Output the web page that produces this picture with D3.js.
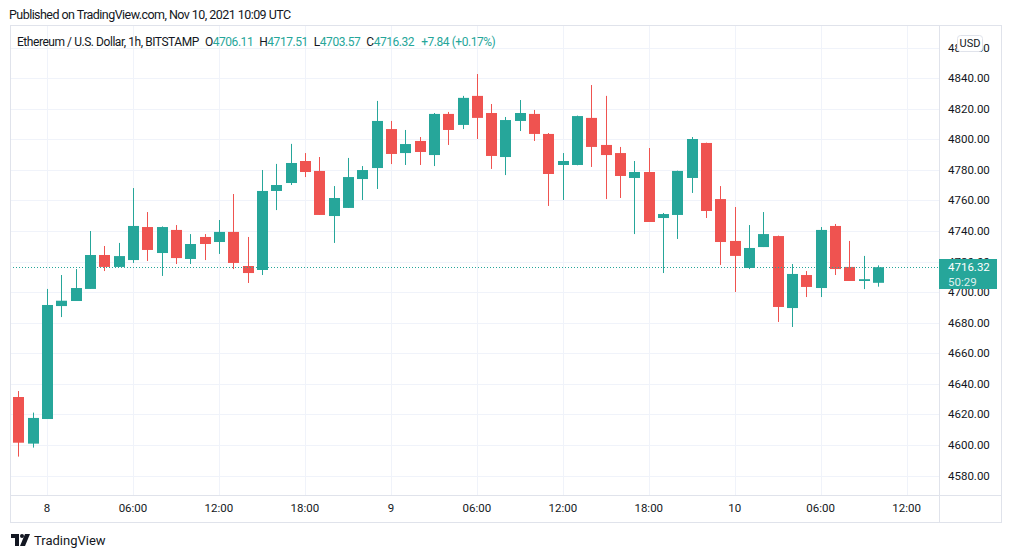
<!DOCTYPE html>
<html>
<head>
<meta charset="utf-8">
<script src="https://cdn.jsdelivr.net/npm/d3@7"></script>
<style>
  body { margin: 0; background: #fff; }
  text { font-family: Roboto, "Noto Sans", sans-serif; }
</style>
</head>
<body>
<script>
const svgW = 1012;
const svgH = 558;

// pane geometry
const paneL = 10, paneR = 939, paneT = 25, paneB = 495, frameR = 1001, frameB = 522;

// data: ETH/USD 1h, BITSTAMP, first candle Nov 7 22:00 UTC
const startTime = Date.UTC(2021, 10, 7, 22);
const hour = 3600 * 1000;
const opens = [4631.4, 4600.9, 4617.0, 4690.9, 4694.2, 4702.1, 4724.3, 4716.5, 4721.0, 4742.6,
  4725.6, 4740.7, 4721.7, 4736.1, 4732.8, 4739.4, 4717.1, 4714.5, 4766.2, 4771.4,
  4785.8, 4779.3, 4749.8, 4755.1, 4774.0, 4781.2, 4806.7, 4791.0, 4798.9, 4789.7,
  4816.6, 4809.4, 4828.4, 4817.2, 4788.4, 4812.0, 4816.6, 4803.5, 4783.2, 4783.2,
  4814.0, 4796.3, 4791.0, 4774.7, 4778.6, 4748.5, 4750.5, 4774.7, 4797.6, 4760.9,
  4733.5, 4715.8, 4729.5, 4736.7, 4689.6, 4711.2, 4702.7, 4743.3, 4716.5, 4707.3,
  4706.11];
const highs = [4635.3, 4621.2, 4702.1, 4711.2, 4715.1, 4740.0, 4730.2, 4732.2, 4768.1, 4752.4,
  4743.0, 4743.9, 4738.0, 4738.0, 4747.2, 4764.2, 4736.1, 4779.9, 4783.9, 4797.0,
  4791.0, 4788.4, 4769.4, 4787.8, 4782.5, 4825.1, 4812.0, 4806.1, 4801.5, 4817.2,
  4817.9, 4828.4, 4842.7, 4823.1, 4814.6, 4825.7, 4819.2, 4804.1, 4791.0, 4815.5,
  4835.5, 4828.4, 4795.0, 4785.8, 4794.3, 4751.8, 4779.5, 4801.5, 4797.8, 4769.4,
  4755.7, 4743.9, 4752.4, 4737.0, 4718.4, 4713.8, 4742.6, 4744.6, 4733.5, 4723.7,
  4717.51];
const lows = [4592.4, 4598.3, 4617.0, 4683.7, 4694.2, 4702.1, 4713.8, 4716.5, 4719.1, 4720.4,
  4710.6, 4718.4, 4718.4, 4721.0, 4725.0, 4715.1, 4706.0, 4711.2, 4753.7, 4770.1,
  4775.3, 4750.5, 4732.2, 4755.1, 4760.3, 4767.5, 4783.8, 4783.2, 4783.2, 4782.5,
  4796.3, 4806.7, 4800.2, 4780.6, 4776.6, 4805.4, 4798.9, 4756.4, 4760.3, 4783.0,
  4781.9, 4760.9, 4761.6, 4738.0, 4745.9, 4712.5, 4734.8, 4764.9, 4748.5, 4717.8,
  4700.1, 4715.1, 4729.5, 4680.5, 4677.2, 4696.8, 4696.8, 4711.2, 4707.3, 4702.0,
  4703.57];
const closes = [4601.5, 4617.7, 4691.6, 4694.4, 4702.7, 4724.3, 4716.5, 4723.6, 4743.3, 4727.6,
  4742.6, 4722.3, 4731.5, 4731.5, 4739.4, 4719.1, 4712.5, 4766.2, 4770.1, 4784.5,
  4778.6, 4750.5, 4761.6, 4775.3, 4779.9, 4812.0, 4790.4, 4796.9, 4791.7, 4816.6,
  4806.1, 4827.1, 4814.0, 4789.1, 4812.6, 4817.2, 4803.5, 4777.3, 4785.8, 4815.2,
  4795.0, 4789.7, 4776.0, 4778.6, 4745.9, 4751.1, 4779.3, 4800.2, 4753.1, 4732.8,
  4723.7, 4728.9, 4738.0, 4690.3, 4711.9, 4703.4, 4740.7, 4715.1, 4707.3, 4708.48,
  4716.32];
const priceTicks = [4580, 4600, 4620, 4640, 4660, 4680, 4700, 4720, 4740, 4760, 4780, 4800, 4820, 4840, 4860];

const up = '#26a69a';
const down = '#ef5350';
const textColor = '#131722';
const gridColor = '#f0f3fa';
const borderColor = '#e0e3eb';

const candles = opens.map((o, i) => ({
  t: new Date(startTime + i * hour), o: o, h: highs[i], l: lows[i], c: closes[i]
}));
const last = candles[candles.length - 1];

const svg = d3.select('body').append('svg')
  .attr('width', svgW)
  .attr('height', svgH);

svg.append('rect').attr('width', svgW).attr('height', svgH).attr('fill', '#fff');

// scales
const pxPerHour = 831 / 58;
const t8 = Date.UTC(2021, 10, 8, 0);
const tEnd = Date.UTC(2021, 10, 10, 10);
const xScale = d3.scaleUtc()
  .domain([new Date(t8 - (47 - paneL) / pxPerHour * hour), new Date(tEnd + (paneR - 878) / pxPerHour * hour)])
  .range([paneL, paneR]);
const yScale = d3.scaleLinear()
  .domain([4600 - (paneB - 445) / 1.5285, 4600 + (445 - paneT) / 1.5285])
  .range([paneB, paneT]);

const timeTicks = xScale.ticks(d3.utcHour.every(6));
const fmtTime = d => d.getUTCHours() === 0 ? d3.utcFormat('%-d')(d) : d3.utcFormat('%H:%M')(d);

// grid
const grid = svg.append('g');
grid.selectAll('.vg').data(timeTicks).enter().append('line')
  .attr('x1', d => Math.round(xScale(d)) + 0.5).attr('x2', d => Math.round(xScale(d)) + 0.5)
  .attr('y1', paneT).attr('y2', paneB)
  .attr('stroke', gridColor);
grid.selectAll('.hg').data(priceTicks).enter().append('line')
  .attr('x1', paneL).attr('x2', paneR)
  .attr('y1', d => Math.round(yScale(d)) + 0.5).attr('y2', d => Math.round(yScale(d)) + 0.5)
  .attr('stroke', gridColor);

// candles
const cw = 11;
const cg = svg.append('g').selectAll('g').data(candles).enter().append('g');
cg.append('line')
  .attr('x1', d => Math.round(xScale(d.t)) + 0.5).attr('x2', d => Math.round(xScale(d.t)) + 0.5)
  .attr('y1', d => yScale(d.h)).attr('y2', d => yScale(d.l))
  .attr('stroke', d => d.c >= d.o ? up : down)
  .attr('stroke-width', 1);
cg.append('rect')
  .attr('x', d => Math.round(xScale(d.t)) - (cw - 1) / 2)
  .attr('y', d => yScale(Math.max(d.o, d.c)))
  .attr('width', cw)
  .attr('height', d => Math.max(1, yScale(Math.min(d.o, d.c)) - yScale(Math.max(d.o, d.c))))
  .attr('fill', d => d.c >= d.o ? up : down);

// last price line
svg.append('line')
  .attr('x1', paneL).attr('x2', paneR)
  .attr('y1', Math.round(yScale(last.c)) + 0.5).attr('y2', Math.round(yScale(last.c)) + 0.5)
  .attr('stroke', up)
  .attr('stroke-dasharray', '1,2');

// frame
svg.append('rect')
  .attr('x', paneL + 0.5).attr('y', paneT + 0.5)
  .attr('width', frameR - paneL).attr('height', frameB - paneT)
  .attr('fill', 'none').attr('stroke', borderColor);
svg.append('line').attr('x1', paneR + 0.5).attr('x2', paneR + 0.5).attr('y1', paneT).attr('y2', frameB)
  .attr('stroke', borderColor);
svg.append('line').attr('x1', paneL).attr('x2', frameR).attr('y1', paneB + 0.5).attr('y2', paneB + 0.5)
  .attr('stroke', borderColor);

// price axis labels (4720 / 4860 sit partly under the price badge and USD badge, as in the original)
svg.append('g').selectAll('text').data(priceTicks).enter().append('text')
  .attr('x', 948)
  .attr('y', d => yScale(d))
  .attr('dy', '0.35em')
  .attr('font-size', 11.5)
  .attr('fill', textColor)
  .text(d => d3.format('.2f')(d));

// time axis labels
svg.append('g').selectAll('text').data(timeTicks).enter().append('text')
  .attr('x', d => xScale(d))
  .attr('y', 508)
  .attr('dy', '0.35em')
  .attr('text-anchor', 'middle')
  .attr('font-size', 11.5)
  .attr('fill', textColor)
  .text(fmtTime);

// last price label
const lp = svg.append('g');
lp.append('rect')
  .attr('x', paneR).attr('y', 259).attr('width', 58).attr('height', 30)
  .attr('fill', up);
lp.append('text').attr('x', 948).attr('y', 267).attr('dy', '0.35em')
  .attr('font-size', 11.5).attr('fill', '#fff').text(d3.format('.2f')(last.c));
lp.append('text').attr('x', 948).attr('y', 282).attr('dy', '0.35em')
  .attr('font-size', 11.5).attr('fill', '#fff').attr('fill-opacity', 0.85).text('50:29');

// currency badge
svg.append('rect')
  .attr('x', 957.5).attr('y', 35.5).attr('width', 25).attr('height', 16).attr('rx', 3)
  .attr('fill', '#fff').attr('stroke', borderColor);
svg.append('text').attr('x', 970).attr('y', 43.5).attr('dy', '0.35em')
  .attr('text-anchor', 'middle').attr('font-size', 11).attr('fill', textColor).text('USD');

// header
svg.append('text').attr('x', 9).attr('y', 15).attr('dy', '0.35em')
  .attr('font-size', 12.5).attr('letter-spacing', -0.55).attr('fill', textColor)
  .text('Published on TradingView.com, Nov 10, 2021 10:09 UTC');

const legend = svg.append('text').attr('x', 17).attr('y', 42).attr('dy', '0.35em')
  .attr('font-size', 12).attr('letter-spacing', -0.45).attr('fill', textColor);
legend.append('tspan').text('Ethereum / U.S. Dollar, 1h, BITSTAMP');
[['O', last.o], ['H', last.h], ['L', last.l], ['C', last.c]].forEach(([k, v]) => {
  legend.append('tspan').attr('dx', 6).text(k);
  legend.append('tspan').attr('fill', up).text(d3.format('.2f')(v));
});
const chg = last.c - closes[closes.length - 2];
legend.append('tspan').attr('dx', 7).attr('fill', up)
  .text('+' + d3.format('.2f')(chg) + ' (+' + d3.format('.2f')(chg / closes[closes.length - 2] * 100) + '%)');

// footer logo
const logo = svg.append('g').attr('transform', 'translate(11, 534)');
logo.append('path').attr('d', 'M0,0 H8 V12 H4 V4 H0 Z').attr('fill', textColor);
logo.append('circle').attr('cx', 11).attr('cy', 2).attr('r', 2).attr('fill', textColor);
logo.append('path').attr('d', 'M14,0 H19 L14,12 H9 Z').attr('fill', textColor);
svg.append('text').attr('x', 34).attr('y', 540).attr('dy', '0.35em')
  .attr('font-size', 13).attr('fill', textColor).text('TradingView');
</script>
</body>
</html>
